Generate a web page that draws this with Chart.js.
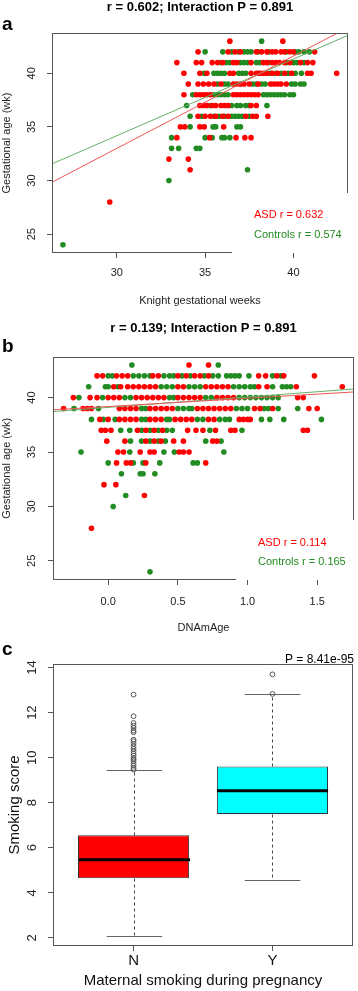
<!DOCTYPE html>
<html>
<head>
<meta charset="utf-8">
<script src="https://cdn.jsdelivr.net/npm/chart.js@4.4.1/dist/chart.umd.min.js"></script>
<style>
  html, body { margin: 0; padding: 0; background: #fff; }
  body { width: 358px; height: 991px; position: relative; overflow: hidden; }
  canvas { position: absolute; left: 0; }
</style>
</head>
<body>
<canvas id="panelA" width="358" height="316" style="top:0px"></canvas>
<canvas id="panelB" width="358" height="320" style="top:318px"></canvas>
<canvas id="panelC" width="358" height="351" style="top:640px"></canvas>
<script>
const FONT = '"Liberation Sans", Arial, Helvetica, sans-serif';
const RED = '#ff0000';
const GREEN = '#228b22';

// gestational age rows (wk), shared by panels a and b
const rows = [43, 42, 41, 40, 39, 38, 37, 36, 35, 34, 33, 32, 31, 30, 28, 24];

// panel a: Knight gestational weeks per row
const asdA = [
  [36.4, 39.4],
  [34.6, 36.3, 36.7, 37.0, 37.9, 38.2, 38.5, 38.8, 39.0, 39.3, 39.5, 39.8, 40.0, 41.2],
  [33.4, 34.5, 34.8, 35.4, 35.7, 36.0, 36.6, 36.8, 37.6, 38.3, 38.5, 38.8, 39.0, 39.2, 39.5, 39.8, 40.4, 40.8, 41.1],
  [33.8, 34.7, 35.1, 36.4, 36.6, 37.6, 37.9, 38.1, 38.3, 38.5, 38.8, 39.1, 39.5, 39.9, 40.8, 41.0, 42.45],
  [34.05, 34.6, 34.9, 35.2, 35.5, 35.9, 36.6, 36.8, 37.0, 37.2, 37.5, 38.0, 38.7, 38.9, 39.1, 39.3, 39.6],
  [33.8, 34.5, 34.7, 34.9, 35.1, 35.3, 36.6, 36.8, 37.0, 37.2, 37.4, 37.6, 37.8, 38.0],
  [34.7, 34.9, 35.1, 35.4, 35.6, 35.9, 36.1, 36.3, 37.6, 37.9],
  [34.6, 35.0, 35.3, 35.6, 36.0, 36.3, 37.3, 37.7, 37.9, 38.55],
  [33.6, 33.85, 34.7, 34.95, 36.05],
  [33.4, 35.25, 36.75, 37.25, 37.6],
  [],
  [32.95, 34.05],
  [34.15],
  [],
  [29.6],
  []
];
const ctlA = [
  [38.2],
  [35.0, 36.0, 36.5, 36.9, 37.2, 37.4, 37.6, 38.0, 38.6, 39.6, 40.1, 40.3, 40.6, 40.9],
  [35.9, 36.2, 36.4, 37.0, 37.2, 37.4, 37.9, 38.1, 38.6, 39.6, 40.0, 40.2, 40.6],
  [34.95, 35.5, 35.7, 35.9, 36.1, 36.9, 37.1, 37.3, 38.0, 38.7, 39.0, 39.3, 39.7, 40.1, 40.45],
  [35.7, 36.1, 36.3, 37.7, 37.9, 38.2, 38.4, 39.9, 40.1, 40.4, 40.6],
  [34.3, 35.5, 35.7, 35.9, 36.1, 36.3, 38.3, 38.5, 38.7, 38.9, 39.1, 39.3, 39.5, 39.8, 40.0],
  [33.95, 35.3, 36.5, 36.8, 37.0, 37.3, 37.5, 38.5],
  [34.15, 34.8, 35.5, 35.8, 36.1, 36.5, 36.7, 36.9, 37.1, 37.5],
  [34.15, 35.45, 35.6, 36.8, 37.0],
  [33.1, 35.0, 35.4, 35.95, 36.1, 36.4],
  [33.1, 33.5, 34.5, 34.7],
  [],
  [37.4],
  [32.95],
  [],
  [26.95]
];
const fitAsdA = [7.17, 0.861];   // intercept, slope
const fitCtlA = [12.73, 0.715];
const xTicksA = [30, 35, 40];
const yTicks = [25, 30, 35, 40];

// panel b: DNAmAge per row
const asdB = [
  [0.58, 0.72],
  [-0.08, -0.04, 0.06, 0.1, 0.14, 0.32, 0.36, 0.5, 0.56, 0.62, 0.66, 0.72, 1.08, 1.13, 1.21, 1.26, 1.48],
  [0.04, 0.09, 0.14, 0.18, 0.22, 0.26, 0.3, 0.34, 0.5, 0.54, 0.7, 0.74, 0.78, 0.82, 0.86, 1.08, 1.14, 1.35, 1.68],
  [-0.25, -0.13, -0.08, 0.0, 0.04, 0.08, 0.2, 0.24, 0.28, 0.32, 0.36, 0.4, 0.5, 0.54, 0.58, 0.62, 0.66, 0.78, 0.82, 0.86, 0.9, 1.36, 1.4],
  [-0.32, -0.18, -0.15, -0.12, 0.08, 0.12, 0.16, 0.2, 0.3, 0.34, 0.38, 0.42, 0.46, 0.64, 0.68, 0.72, 0.76, 0.8, 0.84, 0.88, 1.05, 1.09, 1.18, 1.44, 1.5],
  [-0.06, 0.0, 0.08, 0.12, 0.16, 0.2, 0.3, 0.34, 0.38, 0.48, 0.52, 0.56, 0.6, 0.72, 0.76, 0.94, 0.97, 1.0, 1.02],
  [-0.05, -0.02, 0.02, 0.21, 0.27, 0.33, 0.39, 0.57, 0.63, 0.68, 0.77, 0.88, 0.91, 1.4, 1.43],
  [-0.01, 0.12, 0.27, 0.33, 0.38, 0.47, 0.54, 0.75, 0.78],
  [0.07, 0.11, 0.23, 0.3, 0.33, 0.51, 0.54, 0.58],
  [0.06, 0.13, 0.16, 0.27, 0.7],
  [],
  [-0.03, 0.055],
  [0.26],
  [],
  [-0.12],
  []
];
const ctlB = [
  [0.17, 0.79],
  [0.0, 0.03, 0.18, 0.22, 0.26, 0.3, 0.4, 0.44, 0.47, 0.53, 0.59, 0.69, 0.75, 0.79, 0.85, 0.88, 0.91, 0.94, 1.01, 1.18, 1.24],
  [-0.14, -0.02, 0.0, 0.07, 0.38, 0.42, 0.46, 0.58, 0.62, 0.66, 0.9, 0.94, 0.98, 1.02, 1.05, 1.18, 1.25, 1.28, 1.31],
  [-0.21, -0.04, 0.12, 0.16, 0.44, 0.47, 0.7, 0.74, 0.94, 0.98, 1.02, 1.06, 1.1, 1.14, 1.18, 1.22],
  [-0.245, -0.07, 0.24, 0.27, 0.5, 0.54, 0.58, 0.6, 0.92, 0.96, 1.0, 1.12, 1.15, 1.22, 1.36],
  [-0.12, -0.035, 0.05, 0.24, 0.27, 0.42, 0.44, 0.64, 0.68, 0.8, 0.84, 0.87, 1.1, 1.16, 1.26, 1.53],
  [0.09, 0.155, 0.24, 0.3, 0.36, 0.42, 0.46, 0.73, 0.96],
  [0.16, 0.24, 0.3, 0.36, 0.41, 0.7, 0.81],
  [-0.195, 0.155, 0.4, 0.475, 0.83],
  [0.0, 0.18, 0.25, 0.37, 0.61, 0.64],
  [0.095, 0.23, 0.25, 0.335],
  [],
  [0.126],
  [0.036],
  [],
  [0.3]
];
const fitAsdB = [39.18, 0.76];
const fitCtlB = [39.10, 0.96];
const xTicksB = [0, 0.5, 1, 1.5];

// panel c: smoking score boxplot
const groupsC = ['N', 'Y'];
const lowC = [2.10, 4.58];
const q1C = [4.64, 7.50];
const medC = [5.47, 8.53];
const q3C = [6.55, 9.61];
const highC = [9.45, 12.83];
const outN = [12.8, 11.84, 11.54, 11.42, 11.32, 11.2, 11.13, 10.8, 10.73, 10.62, 10.5, 10.39, 10.28,
  10.18, 10.09, 9.98, 9.91, 9.84, 9.73, 9.64, 9.54, 9.47];
const outY = [13.7, 12.83];
const yTicksC = [2, 4, 6, 8, 10, 12, 14];

function toPoints(rs, xs) {
  const pts = [];
  rs.forEach((r, i) => xs[i].forEach(x => pts.push({ x: x, y: r })));
  return pts;
}

function fitLine(fit, lo, hi) {
  return [lo, hi].map(x => ({ x: x, y: fit[0] + fit[1] * x }));
}

function setTicks(values) {
  return scale => { scale.ticks = values.map(v => ({ value: v })); };
}

// frame box, legend patch and loose texts
const decor = {
  id: 'decor',
  afterDatasetsDraw(chart, args, o) {
    const { ctx, chartArea: a } = chart;
    const L = Math.round(a.left) + 0.5, T = Math.round(a.top) + 0.5;
    const R = Math.round(a.right) - 0.5, B = Math.round(a.bottom) - 0.5;
    ctx.save();
    ctx.strokeStyle = '#555';
    ctx.lineWidth = 1;
    ctx.strokeRect(L, T, R - L, B - T);
    if (o.legend) {
      const g = o.legend;
      ctx.fillStyle = '#fff';
      ctx.fillRect(Math.round(a.right - g.boxW), Math.round(a.bottom - g.boxH), g.boxW + 2, g.boxH);
      ctx.font = '11px ' + FONT;
      ctx.textAlign = 'left';
      ctx.textBaseline = 'alphabetic';
      g.labels.forEach((t, i) => {
        ctx.fillStyle = g.colors[i];
        ctx.fillText(t, a.right - g.textDx, a.bottom - g.textDy[i]);
      });
    }
    (o.texts || []).forEach(t => {
      ctx.font = t.font;
      ctx.fillStyle = '#000';
      ctx.textAlign = t.align || 'center';
      ctx.textBaseline = 'alphabetic';
      ctx.fillText(t.text, t.x === 'mid' ? (a.left + a.right) / 2 : t.x, t.y);
    });
    ctx.restore();
  }
};

function tickGrid() {
  return { drawOnChartArea: false, drawTicks: true, tickLength: 5, color: '#555' };
}

function scatterPanel(id, p) {
  new Chart(document.getElementById(id), {
    type: 'scatter',
    data: {
      datasets: [
        { type: 'line', data: fitLine(p.fitAsd, p.xMin, p.xMax), borderColor: '#ee5555', borderWidth: 1, pointRadius: 0, fill: false },
        { type: 'line', data: fitLine(p.fitCtl, p.xMin, p.xMax), borderColor: '#66b066', borderWidth: 1, pointRadius: 0, fill: false },
        { label: 'ASD', data: toPoints(rows, p.asd), backgroundColor: RED, borderWidth: 0, pointRadius: 2.8 },
        { label: 'Controls', data: toPoints(rows, p.ctl), backgroundColor: GREEN, borderWidth: 0, pointRadius: 2.8 }
      ]
    },
    options: {
      responsive: false,
      animation: false,
      devicePixelRatio: 1,
      layout: { padding: { left: 0, right: p.padRight, top: p.padTop, bottom: p.padBottom } },
      plugins: {
        legend: { display: false },
        tooltip: { enabled: false },
        decor: { legend: p.legend, texts: p.texts }
      },
      scales: {
        x: {
          type: 'linear', min: p.xMin, max: p.xMax,
          afterBuildTicks: setTicks(p.xTicks),
          afterFit: s => { s.height = p.xAxisH; },
          border: { display: false },
          grid: tickGrid(),
          ticks: { font: { family: FONT, size: 11 }, color: '#222', padding: p.xTickPad, callback: p.xFmt },
          title: { display: true, text: p.xTitle, font: { family: FONT, size: 11 }, color: '#222', padding: { top: 0, bottom: p.xTitlePad } }
        },
        y: {
          type: 'linear', min: 23.24, max: 43.76,
          afterBuildTicks: setTicks(yTicks),
          afterFit: s => { s.width = p.yAxisW; },
          border: { display: false },
          grid: tickGrid(),
          ticks: { font: { family: FONT, size: 11 }, color: '#222', padding: p.yTickPad, minRotation: 90, maxRotation: 90, crossAlign: 'center' },
          title: { display: true, text: 'Gestational age (wk)', font: { family: FONT, size: 11 }, color: '#222', padding: { top: 0, bottom: 0 } }
        }
      }
    },
    plugins: [decor]
  });
}

scatterPanel('panelA', {
  asd: asdA, ctl: ctlA, fitAsd: fitAsdA, fitCtl: fitCtlA,
  xMin: 26.33, xMax: 43.09, xTicks: xTicksA, xFmt: v => String(v),
  xTitle: 'Knight gestational weeks',
  padTop: 33, padRight: 10, padBottom: 3, xAxisH: 60, yAxisW: 52,
  xTickPad: 8, yTickPad: 9, xTitlePad: 5.7,
  legend: { boxW: 116, boxH: 60, textDx: 94, textDy: [34.7, 14.7],
    labels: ['ASD r = 0.632', 'Controls r = 0.574'], colors: [RED, GREEN] },
  texts: [
    { text: 'r = 0.602; Interaction P = 0.891', font: 'bold 13px ' + FONT, x: 'mid', y: 11 },
    { text: 'a', font: 'bold 19px ' + FONT, x: 2, y: 30, align: 'left' }
  ]
});

scatterPanel('panelB', {
  asd: asdB, ctl: ctlB, fitAsd: fitAsdB, fitCtl: fitCtlB,
  xMin: -0.396, xMax: 1.764, xTicks: xTicksB, xFmt: v => v.toFixed(1),
  xTitle: 'DNAmAge',
  padTop: 38.7, padRight: 3, padBottom: 3, xAxisH: 55, yAxisW: 53,
  xTickPad: 10, yTickPad: 10, xTitlePad: 0.4,
  legend: { boxW: 118, boxH: 60, textDx: 96, textDy: [34, 15],
    labels: ['ASD r = 0.114', 'Controls r = 0.165'], colors: [RED, GREEN] },
  texts: [
    { text: 'r = 0.139; Interaction P = 0.891', font: 'bold 13px ' + FONT, x: 'mid', y: 13.7 },
    { text: 'b', font: 'bold 19px ' + FONT, x: 2, y: 33.7, align: 'left' }
  ]
});

// whiskers, caps and medians for the boxplot
const whiskers = {
  id: 'whiskers',
  afterDatasetsDraw(chart) {
    const { ctx, scales: { x, y } } = chart;
    ctx.save();
    groupsC.forEach((g, i) => {
      const cx = Math.round(x.getPixelForValue(i + 1)) + 0.5;
      const half = (x.getPixelForValue(1.2) - x.getPixelForValue(1));
      const boxHalf = (x.getPixelForValue(1.4) - x.getPixelForValue(1));
      const py = v => Math.round(y.getPixelForValue(v)) + 0.5;
      ctx.lineWidth = 1;
      ctx.strokeStyle = '#444';
      ctx.setLineDash([3, 3]);
      ctx.beginPath();
      ctx.moveTo(cx, py(q3C[i])); ctx.lineTo(cx, py(highC[i]));
      ctx.moveTo(cx, py(q1C[i])); ctx.lineTo(cx, py(lowC[i]));
      ctx.stroke();
      ctx.setLineDash([]);
      ctx.strokeStyle = '#666';
      ctx.beginPath();
      ctx.moveTo(cx - half, py(highC[i])); ctx.lineTo(cx + half, py(highC[i]));
      ctx.moveTo(cx - half, py(lowC[i])); ctx.lineTo(cx + half, py(lowC[i]));
      ctx.stroke();
      ctx.strokeStyle = '#000';
      ctx.lineWidth = 3;
      ctx.beginPath();
      const my = y.getPixelForValue(medC[i]);
      ctx.moveTo(cx - boxHalf, my); ctx.lineTo(cx + boxHalf, my);
      ctx.stroke();
    });
    ctx.restore();
  }
};

const outliers = outN.map(v => ({ x: 1, y: v })).concat(outY.map(v => ({ x: 2, y: v })));

new Chart(document.getElementById('panelC'), {
  type: 'bar',
  data: {
    datasets: [
      { type: 'scatter', data: outliers, pointStyle: 'circle', pointRadius: 2.4,
        backgroundColor: 'rgba(0,0,0,0)', borderColor: '#555', borderWidth: 1 },
      { type: 'bar', data: groupsC.map((g, i) => ({ x: i + 1, y: [q1C[i], q3C[i]] })),
        backgroundColor: [RED, '#00ffff'], borderColor: '#333', borderWidth: 1, borderSkipped: false,
        barPercentage: 0.8, categoryPercentage: 1 }
    ]
  },
  options: {
    responsive: false,
    animation: false,
    devicePixelRatio: 1,
    layout: { padding: { left: 0, right: 4, top: 24, bottom: 0 } },
    plugins: {
      legend: { display: false },
      tooltip: { enabled: false },
      decor: {
        texts: [
          { text: 'P = 8.41e-95', font: '12px ' + FONT, x: 354, y: 22.7, align: 'right' },
          { text: 'c', font: 'bold 19px ' + FONT, x: 2, y: 15, align: 'left' }
        ]
      }
    },
    scales: {
      x: {
        type: 'linear', min: 0.42, max: 2.58, offset: false,
        afterBuildTicks: setTicks([1, 2]),
        afterFit: s => { s.height = 45; },
        border: { display: false },
        grid: Object.assign(tickGrid(), { offset: false }),
        ticks: { font: { family: FONT, size: 15 }, color: '#111', padding: 1, callback: v => groupsC[v - 1] },
        title: { display: true, text: 'Maternal smoking during pregnancy', font: { family: FONT, size: 15 }, color: '#111', padding: { top: 0, bottom: 1.3 } }
      },
      y: {
        type: 'linear', min: 1.636, max: 14.16,
        afterBuildTicks: setTicks(yTicksC),
        afterFit: s => { s.width = 53; },
        border: { display: false },
        grid: tickGrid(),
        ticks: { font: { family: FONT, size: 13 }, color: '#222', padding: 8, minRotation: 90, maxRotation: 90, crossAlign: 'center' },
        title: { display: true, text: 'Smoking score', font: { family: FONT, size: 15 }, color: '#111', padding: { top: 6, bottom: 0 } }
      }
    }
  },
  plugins: [whiskers, decor]
});
</script>
</body>
</html>
